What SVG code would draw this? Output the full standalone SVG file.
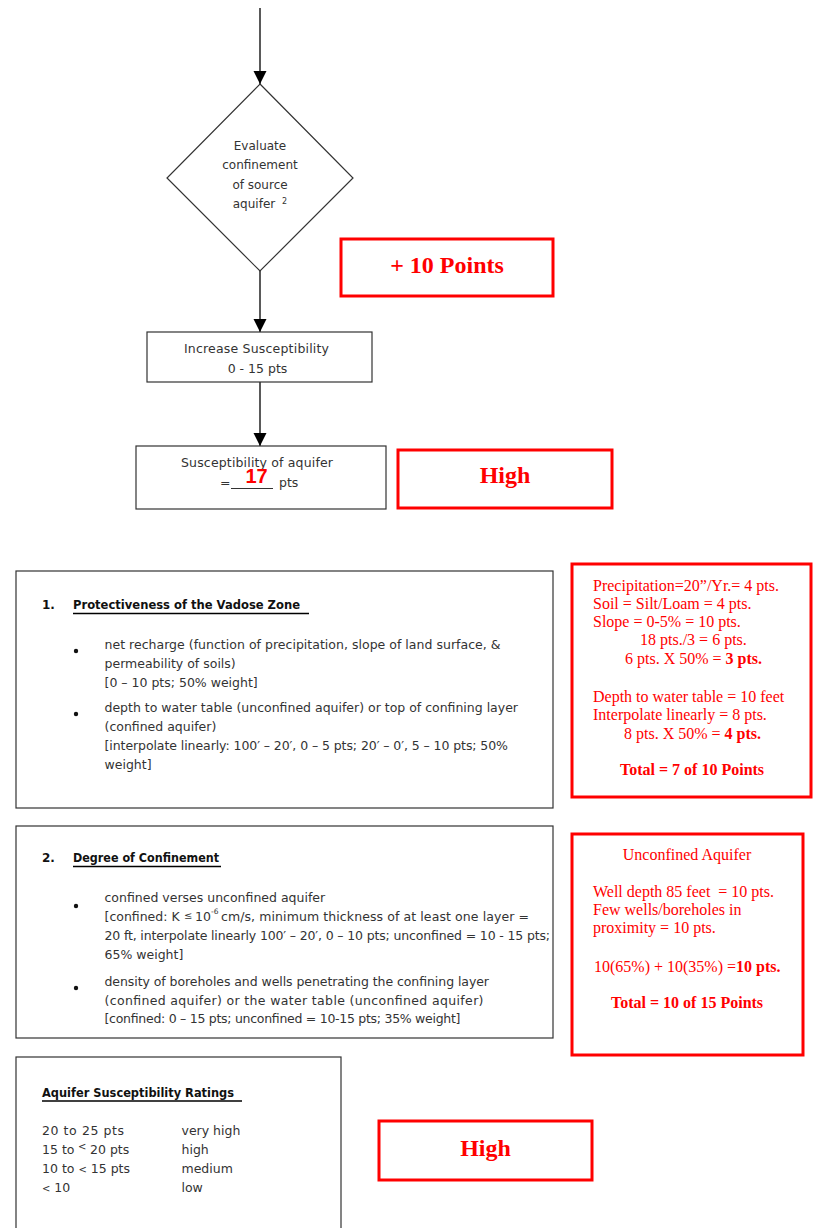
<svg xmlns="http://www.w3.org/2000/svg" width="813" height="1228" viewBox="0 0 813 1228">
  <defs>
    <marker id="arrow" markerUnits="userSpaceOnUse" markerWidth="14" markerHeight="14" refX="13" refY="6.5" orient="auto">
      <path d="M0,0 L13,6.5 L0,13 Z" fill="#000"/>
    </marker>
  </defs>
  <style>
    .t { font-family: "DejaVu Sans", Verdana, sans-serif; font-size: 12.5px; fill: #333; }
    .d { font-family: "DejaVu Sans", Verdana, sans-serif; font-size: 12px; fill: #333; }
    .h { font-family: "DejaVu Sans", Verdana, sans-serif; font-size: 12px; font-weight: bold; fill: #111; }
    .s { font-size: 10px; }
    .r { font-family: "Liberation Serif", "Times New Roman", serif; font-size: 16px; fill: #ff0000; }
    .rb { font-weight: bold; }
    .big { font-family: "Liberation Serif", "Times New Roman", serif; font-size: 24px; font-weight: bold; fill: #ff0000; }
    .box { fill: #fff; stroke: #333; stroke-width: 1.2; }
    .rbox { fill: #fff; stroke: #ff0000; stroke-width: 3; }
    .ul { stroke: #000; stroke-width: 1.5; }
    .conn { stroke: #000; stroke-width: 1.3; fill: none; }
  </style>
  <rect width="813" height="1228" fill="#fff"/>

  <!-- flow connectors -->
  <g id="connectors">
    <line class="conn" x1="260" y1="8" x2="260" y2="84" marker-end="url(#arrow)"/>
    <line class="conn" x1="260" y1="271" x2="260" y2="332" marker-end="url(#arrow)"/>
    <line class="conn" x1="260" y1="382" x2="260" y2="446" marker-end="url(#arrow)"/>
  </g>

  <!-- decision: confinement -->
  <g id="decision-confinement">
    <polygon class="box" points="260,84 353,178 260,271 167,178"/>
    <text class="d" x="260" y="150" text-anchor="middle">Evaluate</text>
    <text class="d" x="260" y="169" text-anchor="middle">confinement</text>
    <text class="d" x="260" y="189" text-anchor="middle">of source</text>
    <text class="d" x="254" y="208" text-anchor="middle">aquifer</text>
    <text class="d" x="282" y="204" style="font-size:8px">2</text>
  </g>

  <!-- added points -->
  <g id="bonus-points">
    <rect class="rbox" x="341" y="239" width="212" height="57"/>
    <text class="big" x="447" y="273" text-anchor="middle">+ 10 Points</text>
  </g>

  <!-- increase susceptibility -->
  <g id="increase-susceptibility">
    <rect class="box" x="147" y="332" width="225" height="50"/>
    <text class="t" x="256.5" y="353" text-anchor="middle" textLength="145">Increase Susceptibility</text>
    <text class="t" x="257.5" y="373" text-anchor="middle">0 - 15 pts</text>
  </g>

  <!-- resulting susceptibility -->
  <g id="aquifer-susceptibility">
    <rect class="box" x="136" y="446" width="250" height="63"/>
    <text class="t" x="257" y="467" text-anchor="middle" textLength="152">Susceptibility of aquifer</text>
    <text class="t" x="220" y="487">=</text>
    <line x1="231" y1="488.5" x2="273" y2="488.5" stroke="#333" stroke-width="1"/>
    <text class="t" x="279" y="487">pts</text>
    <text x="256.5" y="483" text-anchor="middle" style="font-family:'Liberation Sans',Arial,sans-serif;font-size:20px;font-weight:bold;fill:#ff0000">17</text>
  </g>

  <g id="rating-high-1">
    <rect class="rbox" x="398" y="450" width="214" height="58"/>
    <text class="big" x="505" y="483" text-anchor="middle">High</text>
  </g>

  <!-- criterion 1 -->
  <g id="criterion-vadose">
    <rect class="box" x="16" y="571" width="537" height="237"/>
    <text class="h" x="42" y="609">1.</text>
    <text class="h" x="73" y="609" textLength="227" lengthAdjust="spacingAndGlyphs">Protectiveness of the Vadose Zone</text>
    <line class="ul" x1="73" y1="613.5" x2="309" y2="613.5"/>
    <circle cx="76" cy="651" r="2.2" fill="#111"/>
    <circle cx="76" cy="714" r="2.2" fill="#111"/>
    <text class="t" x="104.5" y="649" textLength="396">net recharge (function of precipitation, slope of land surface, &amp;</text>
    <text class="t" x="104.5" y="668">permeability of soils)</text>
    <text class="t" x="104.5" y="687">[0 – 10 pts; 50% weight]</text>
    <text class="t" x="104.5" y="712" textLength="413.5">depth to water table (unconfined aquifer) or top of confining layer</text>
    <text class="t" x="104.5" y="731">(confined aquifer)</text>
    <text class="t" x="104.5" y="750" textLength="403.5">[interpolate linearly: 100′ – 20′, 0 – 5 pts; 20′ – 0′, 5 – 10 pts; 50%</text>
    <text class="t" x="104.5" y="769">weight]</text>
  </g>

  <g id="score-vadose">
    <rect class="rbox" x="572" y="564" width="239" height="233"/>
    <text class="r" x="593" y="591">Precipitation=20”/Yr.= 4 pts.</text>
    <text class="r" x="593" y="609">Soil = Silt/Loam = 4 pts.</text>
    <text class="r" x="593" y="627">Slope = 0-5% = 10 pts.</text>
    <text class="r" x="640" y="645">18 pts./3 = 6 pts.</text>
    <text class="r" x="625" y="664">6 pts. X 50% = <tspan class="rb">3 pts.</tspan></text>
    <text class="r" x="593" y="702">Depth to water table = 10 feet</text>
    <text class="r" x="593" y="720">Interpolate linearly = 8 pts.</text>
    <text class="r" x="624" y="739">8 pts. X 50% = <tspan class="rb">4 pts.</tspan></text>
    <text class="r rb" x="620" y="775">Total = 7 of 10 Points</text>
  </g>

  <!-- criterion 2 -->
  <g id="criterion-confinement">
    <rect class="box" x="16" y="826" width="537" height="212"/>
    <text class="h" x="42" y="862">2.</text>
    <text class="h" x="73" y="862" textLength="146" lengthAdjust="spacingAndGlyphs">Degree of Confinement</text>
    <line class="ul" x1="73" y1="866.5" x2="221" y2="866.5"/>
    <circle cx="76" cy="906" r="2.2" fill="#111"/>
    <circle cx="76" cy="988" r="2.2" fill="#111"/>
    <text class="t" x="104.5" y="902">confined verses unconfined aquifer</text>
    <text class="t" x="104.5" y="921">[confined: K</text>
    <text class="t s" x="184" y="919">≤</text>
    <text class="t" x="195" y="921">10</text>
    <text class="t" x="211" y="914" style="font-size:7.5px">-6</text>
    <text class="t" x="221" y="921" textLength="308">cm/s, minimum thickness of at least one layer =</text>
    <text class="t" x="104.5" y="940" textLength="445.5">20 ft, interpolate linearly 100′ – 20′, 0 – 10 pts; unconfined = 10 - 15 pts;</text>
    <text class="t" x="104.5" y="959">65% weight]</text>
    <text class="t" x="104.5" y="986" textLength="384.5">density of boreholes and wells penetrating the confining layer</text>
    <text class="t" x="104.5" y="1005" textLength="379">(confined aquifer) or the water table (unconfined aquifer)</text>
    <text class="t" x="104.5" y="1023" textLength="356">[confined: 0 – 15 pts; unconfined = 10-15  pts; 35% weight]</text>
  </g>

  <g id="score-confinement">
    <rect class="rbox" x="572" y="834" width="231" height="221"/>
    <text class="r" x="687" y="860" text-anchor="middle">Unconfined Aquifer</text>
    <text class="r" x="593" y="897" xml:space="preserve">Well depth 85 feet  = 10 pts.</text>
    <text class="r" x="593" y="915">Few wells/boreholes in</text>
    <text class="r" x="593" y="933">proximity = 10 pts.</text>
    <text class="r" x="594" y="972">10(65%) + 10(35%) =<tspan class="rb">10 pts.</tspan></text>
    <text class="r rb" x="611" y="1008">Total = 10 of 15 Points</text>
  </g>

  <!-- rating scale -->
  <g id="rating-scale">
    <rect class="box" x="16" y="1057" width="325" height="200"/>
    <text class="h" x="42" y="1097" textLength="192" lengthAdjust="spacingAndGlyphs">Aquifer Susceptibility Ratings</text>
    <line class="ul" x1="42" y1="1101" x2="242" y2="1101"/>
    <text class="t" x="42" y="1135" textLength="82">20 to 25 pts</text>
    <text class="t" x="42" y="1154">15 to</text>
    <text class="t s" x="78" y="1150">&lt;</text>
    <text class="t" x="90" y="1154">20 pts</text>
    <text class="t" x="42" y="1173">10 to <tspan class="s">&lt;</tspan> 15 pts</text>
    <text class="t" x="42" y="1192"><tspan class="s">&lt;</tspan> 10</text>
    <text class="t" x="181.5" y="1135">very high</text>
    <text class="t" x="181.5" y="1154">high</text>
    <text class="t" x="181.5" y="1173">medium</text>
    <text class="t" x="181.5" y="1192">low</text>
  </g>

  <g id="rating-high-2">
    <rect class="rbox" x="379" y="1121" width="213" height="59"/>
    <text class="big" x="485.5" y="1156" text-anchor="middle">High</text>
  </g>
</svg>
